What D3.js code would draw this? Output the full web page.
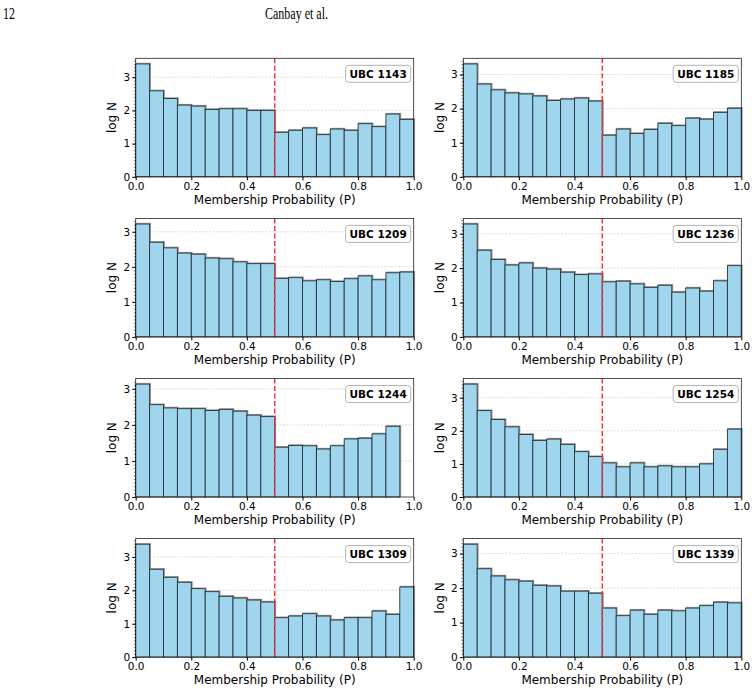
<!DOCTYPE html>
<html>
<head>
<meta charset="utf-8">
<script src="https://cdn.jsdelivr.net/npm/d3@7"></script>
<style>
  body { margin: 0; background: #fff; }
  svg { display: block; }
  .tick text { font-family: "DejaVu Sans", sans-serif; font-size: 10.5px; fill: #000; }
</style>
</head>
<body>
<svg id="fig" width="755" height="696"></svg>
<script>
// bin edges: 20 bins of width 0.05 on P = [0, 1]
const binEdges = d3.range(0, 1.0001, 0.05);

const clusterNames = ["UBC 1143", "UBC 1185", "UBC 1209", "UBC 1236",
                      "UBC 1244", "UBC 1254", "UBC 1309", "UBC 1339"];

// log N per bin
const ubc1143 = [3.40, 2.59, 2.36, 2.16, 2.13, 2.03, 2.05, 2.05, 2.00, 2.00,
                 1.34, 1.40, 1.47, 1.27, 1.44, 1.40, 1.60, 1.51, 1.89, 1.73];
const ubc1185 = [3.31, 2.72, 2.55, 2.46, 2.43, 2.37, 2.24, 2.28, 2.31, 2.22,
                 1.22, 1.40, 1.27, 1.39, 1.57, 1.50, 1.72, 1.69, 1.89, 2.01];
const ubc1209 = [3.22, 2.70, 2.54, 2.39, 2.36, 2.25, 2.23, 2.14, 2.09, 2.09,
                 1.67, 1.69, 1.60, 1.63, 1.58, 1.66, 1.74, 1.63, 1.83, 1.85];
const ubc1236 = [3.28, 2.52, 2.25, 2.09, 2.15, 2.00, 1.97, 1.88, 1.81, 1.83,
                 1.60, 1.62, 1.54, 1.44, 1.50, 1.30, 1.42, 1.33, 1.63, 2.07];
const ubc1244 = [3.13, 2.56, 2.47, 2.45, 2.45, 2.40, 2.43, 2.38, 2.27, 2.23,
                 1.38, 1.43, 1.42, 1.33, 1.42, 1.61, 1.63, 1.75, 1.96, 0];
const ubc1254 = [3.41, 2.61, 2.34, 2.12, 1.89, 1.71, 1.75, 1.59, 1.37, 1.22,
                 1.03, 0.91, 1.03, 0.91, 0.94, 0.91, 0.91, 1.00, 1.44, 2.05];
const ubc1309 = [3.38, 2.63, 2.39, 2.24, 2.05, 1.96, 1.82, 1.77, 1.71, 1.65,
                 1.18, 1.23, 1.30, 1.23, 1.11, 1.18, 1.18, 1.38, 1.28, 2.10];
const ubc1339 = [3.27, 2.56, 2.35, 2.24, 2.20, 2.08, 2.06, 1.91, 1.91, 1.85,
                 1.42, 1.20, 1.36, 1.24, 1.36, 1.34, 1.42, 1.49, 1.59, 1.57];

const panelValues = [ubc1143, ubc1185, ubc1209, ubc1236, ubc1244, ubc1254, ubc1309, ubc1339];

const xTicks = [0, 0.2, 0.4, 0.6, 0.8, 1.0];
const yTicks = [0, 1, 2, 3];
const cutP = 0.5;

const svg = d3.select("#fig");

// page header
svg.append("text")
    .attr("x", 3).attr("y", 18.5)
    .attr("textLength", 12).attr("lengthAdjust", "spacingAndGlyphs")
    .style("font-family", "'Liberation Serif', serif").style("font-size", "17.5px")
    .text("12");
svg.append("text")
    .attr("x", 265).attr("y", 18.5)
    .attr("textLength", 63).attr("lengthAdjust", "spacingAndGlyphs")
    .style("font-family", "'Liberation Serif', serif").style("font-size", "17.5px")
    .text("Canbay et al.");

// panel grid
const colLeft = [135.7, 463.3];
const panelW = 278;
const rowTop = 58.3, rowStep = 160.1, panelH = 118.5;

panelValues.forEach((vals, i) => {
    const col = i % 2, row = Math.floor(i / 2);
    const g = svg.append("g")
        .attr("transform", `translate(${colLeft[col]},${rowTop + row * rowStep})`);

    const x = d3.scaleLinear().domain([0, 1]).range([0, panelW]);
    const y = d3.scaleLinear().domain([0, d3.max(vals) * 1.05]).range([panelH, 0]);

    // grid lines
    g.append("g").selectAll("line")
        .data(yTicks.filter(t => t > 0))
        .join("line")
        .attr("x1", 0).attr("x2", panelW)
        .attr("y1", d => y(d)).attr("y2", d => y(d))
        .attr("stroke", "#b0b0b0").attr("stroke-width", 0.6)
        .attr("stroke-dasharray", "2,1.5").attr("opacity", 0.7);

    const bins = vals.map((v, k) => ({ x0: binEdges[k], x1: binEdges[k + 1], v }))
        .filter(d => d.v > 0);

    // soft shadow behind bars
    g.append("g").selectAll("rect")
        .data(bins)
        .join("rect")
        .attr("x", d => x(d.x0) + 0.8)
        .attr("y", d => y(d.v) - 0.6)
        .attr("width", d => x(d.x1) - x(d.x0))
        .attr("height", d => y(0) - y(d.v))
        .attr("fill", "none")
        .attr("stroke", "#999").attr("stroke-width", 1.2);

    g.append("g").selectAll("rect")
        .data(bins)
        .join("rect")
        .attr("x", d => x(d.x0))
        .attr("y", d => y(d.v))
        .attr("width", d => x(d.x1) - x(d.x0))
        .attr("height", d => y(0) - y(d.v))
        .attr("fill", "#9fd6ee")
        .attr("stroke", "#263238").attr("stroke-width", 0.9);

    // membership cut
    g.append("line")
        .attr("x1", x(cutP)).attr("x2", x(cutP))
        .attr("y1", 0).attr("y2", panelH)
        .attr("stroke", "#ff2a2a").attr("stroke-width", 1.4)
        .attr("stroke-dasharray", "5,2.5");

    // frame
    g.append("rect")
        .attr("width", panelW).attr("height", panelH)
        .attr("fill", "none").attr("stroke", "#222").attr("stroke-width", 0.8);

    // axes
    g.append("g")
        .attr("transform", `translate(0,${panelH})`)
        .call(d3.axisBottom(x).tickValues(xTicks).tickFormat(d3.format(".1f")).tickSize(3.5).tickPadding(2))
        .call(a => a.select(".domain").remove());

    g.append("g")
        .call(d3.axisLeft(y).tickValues(d3.range(0, y.domain()[1], 0.1)).tickSize(1.8).tickFormat(""))
        .call(a => a.select(".domain").remove())
        .call(a => a.selectAll("line").attr("stroke-width", 0.5));

    g.append("g")
        .call(d3.axisLeft(y).tickValues(yTicks).tickFormat(d3.format("d")).tickSize(3.5).tickPadding(2))
        .call(a => a.select(".domain").remove());

    g.append("text")
        .attr("x", panelW / 2).attr("y", panelH + 27)
        .attr("text-anchor", "middle")
        .style("font-family", "'DejaVu Sans', sans-serif").style("font-size", "12px")
        .text("Membership Probability (P)");

    g.append("text")
        .attr("transform", `translate(${-19.5},${panelH / 2}) rotate(-90)`)
        .attr("text-anchor", "middle")
        .style("font-family", "'DejaVu Sans', sans-serif").style("font-size", "12px")
        .text("log N");

    // cluster label box
    const label = g.append("g").attr("transform", `translate(${panelW - 3},7)`);
    const t = label.append("text")
        .attr("x", -4).attr("y", 12.5)
        .attr("text-anchor", "end")
        .style("font-family", "'DejaVu Sans', sans-serif").style("font-size", "10.5px")
        .style("font-weight", "bold")
        .text(clusterNames[i]);
    const bw = t.node().getComputedTextLength() + 8;
    label.insert("rect", "text")
        .attr("x", -bw).attr("y", 0)
        .attr("width", bw).attr("height", 17)
        .attr("rx", 3)
        .attr("fill", "#fff").attr("stroke", "#aaa").attr("stroke-width", 0.9);
});
</script>
</body>
</html>
